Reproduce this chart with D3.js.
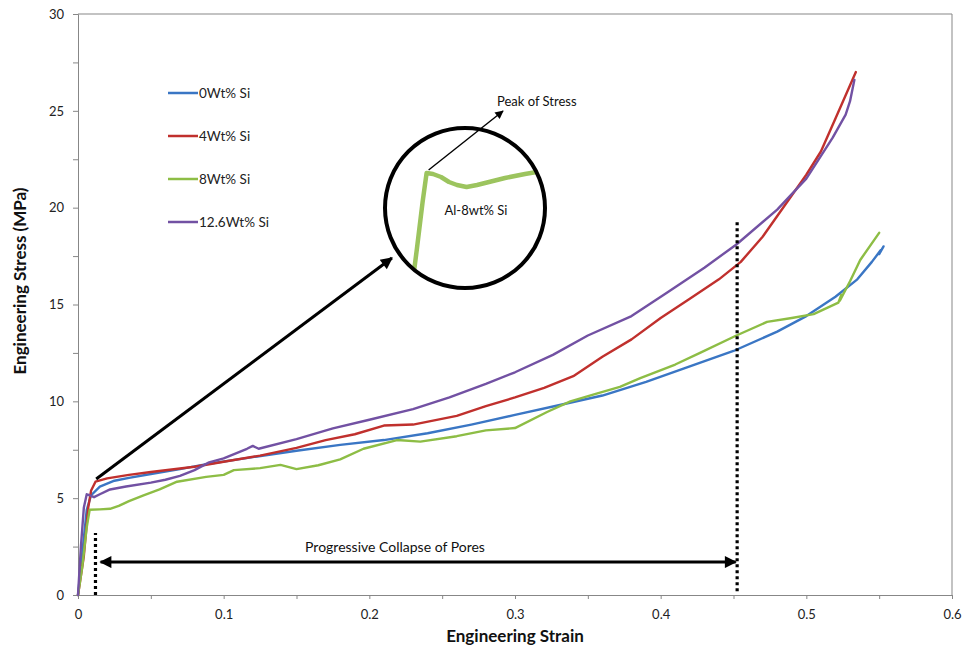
<!DOCTYPE html>
<html>
<head>
<meta charset="utf-8">
<script src="https://cdn.jsdelivr.net/npm/d3@7"></script>
<style>
  html, body { margin: 0; padding: 0; background: #fff; }
  svg { display: block; font-family: Lato, "Open Sans", sans-serif; }
</style>
</head>
<body>
<svg id="chart" width="973" height="647"></svg>
<script>
// ---------- data ----------
const seriesNames = ["0Wt% Si", "4Wt% Si", "8Wt% Si", "12.6Wt% Si"];
const seriesColors = ["#3a76c4", "#c0302d", "#8dbd45", "#7251a3"];

const si0 = [[0,0],[0.003,2.2],[0.006,4.4],[0.009,5.15],[0.015,5.6],[0.025,5.9],[0.035,6.05],[0.05,6.25],[0.07,6.5],[0.09,6.78],[0.12,7.12],[0.15,7.45],[0.18,7.75],[0.21,8.0],[0.24,8.35],[0.27,8.8],[0.3,9.3],[0.33,9.8],[0.36,10.3],[0.39,11.0],[0.42,11.8],[0.45,12.6],[0.48,13.6],[0.5,14.4],[0.52,15.4],[0.535,16.3],[0.545,17.2],[0.551,17.8],[0.55,17.6],[0.553,18.0]];

const si4 = [[0,0],[0.004,2.0],[0.007,4.5],[0.009,5.4],[0.012,5.85],[0.02,6.02],[0.035,6.2],[0.05,6.35],[0.08,6.62],[0.1,6.88],[0.125,7.2],[0.15,7.6],[0.17,8.0],[0.19,8.3],[0.21,8.75],[0.23,8.8],[0.26,9.25],[0.28,9.75],[0.3,10.2],[0.32,10.7],[0.34,11.3],[0.36,12.3],[0.38,13.2],[0.4,14.3],[0.42,15.3],[0.44,16.3],[0.455,17.2],[0.47,18.5],[0.485,20.1],[0.5,21.7],[0.51,22.9],[0.52,24.6],[0.534,27.0]];

const si8 = [[0,0],[0.003,1.5],[0.006,3.5],[0.008,4.4],[0.015,4.42],[0.022,4.45],[0.028,4.6],[0.035,4.85],[0.045,5.15],[0.056,5.45],[0.068,5.85],[0.088,6.1],[0.1,6.2],[0.107,6.45],[0.125,6.55],[0.139,6.72],[0.15,6.5],[0.165,6.7],[0.18,7.0],[0.196,7.55],[0.219,8.0],[0.235,7.92],[0.26,8.2],[0.28,8.5],[0.3,8.62],[0.322,9.45],[0.338,10.0],[0.356,10.4],[0.372,10.75],[0.386,11.2],[0.41,11.9],[0.427,12.5],[0.452,13.4],[0.473,14.1],[0.49,14.3],[0.505,14.5],[0.515,14.85],[0.522,15.1],[0.524,15.5],[0.523,15.2],[0.53,16.2],[0.537,17.3],[0.55,18.7]];

const si126 = [[0,0],[0.002,2.5],[0.004,4.5],[0.006,5.2],[0.008,5.15],[0.011,5.05],[0.015,5.2],[0.022,5.45],[0.033,5.6],[0.05,5.8],[0.06,5.95],[0.07,6.15],[0.08,6.45],[0.09,6.85],[0.1,7.05],[0.116,7.55],[0.12,7.7],[0.124,7.55],[0.15,8.05],[0.175,8.6],[0.2,9.05],[0.23,9.6],[0.255,10.2],[0.28,10.9],[0.3,11.5],[0.326,12.4],[0.35,13.4],[0.38,14.4],[0.404,15.6],[0.43,16.9],[0.452,18.1],[0.48,19.9],[0.5,21.5],[0.518,23.6],[0.527,24.8],[0.53,25.5],[0.533,26.6]];

const allSeries = [si0, si4, si8, si126];

const yTickValues = [0, 2.5, 5, 7.5, 10, 12.5, 15, 17.5, 20, 22.5, 25, 27.5, 30];
const xTickValues = [0, 0.05, 0.1, 0.15, 0.2, 0.25, 0.3, 0.35, 0.4, 0.45, 0.5, 0.55, 0.6];

// magnified inset (Al-8wt% Si near the peak)
const insetCurve = [[0.0072,3.85],[0.0080,4.1],[0.0087,4.33],[0.0092,4.475],[0.0100,4.47],[0.011,4.455],[0.012,4.43],[0.013,4.415],[0.0142,4.405],[0.0155,4.415],[0.017,4.43],[0.019,4.45],[0.0215,4.47],[0.0245,4.49]];

// annotations (data units)
const leftDotted = [[0.012, 0], [0.012, 3.2]];
const rightDotted = [[0.4525, 0.2], [0.4525, 19.3]];
const collapseArrow = [[0.0155, 1.7], [0.4515, 1.7]];
const bigArrow = [[0.0125, 5.99], [0.2155, 17.4]];

// ---------- layout ----------
const svg = d3.select("#chart");
const x = d3.scaleLinear().domain([0, 0.6]).range([78, 952]);
const y = d3.scaleLinear().domain([0, 30]).range([595, 14]);

const axisColor = "#878787";

// frame (top + right)
svg.append("line").attr("x1", x(0)).attr("x2", x(0.6)).attr("y1", y(30)).attr("y2", y(30))
  .attr("stroke", axisColor).attr("stroke-width", 1);
svg.append("line").attr("x1", x(0.6)).attr("x2", x(0.6)).attr("y1", y(30)).attr("y2", y(0))
  .attr("stroke", axisColor).attr("stroke-width", 1);

// axes
const yAxis = d3.axisLeft(y).tickValues(yTickValues).tickSize(5).tickPadding(9)
  .tickFormat(d => d % 5 === 0 ? d3.format("d")(d) : "");
const xAxis = d3.axisBottom(x).tickValues(xTickValues).tickSize(4).tickPadding(11)
  .tickFormat(d => Math.abs(d * 10 - Math.round(d * 10)) < 1e-9 ? (d === 0 ? "0" : d3.format(".1f")(d)) : "");

const gy = svg.append("g").attr("transform", `translate(${x(0)},0)`).call(yAxis);
const gx = svg.append("g").attr("transform", `translate(0,${y(0)})`).call(xAxis);
[gx, gy].forEach(g => {
  g.select(".domain").attr("stroke", axisColor);
  g.selectAll(".tick line").attr("stroke", axisColor);
  g.selectAll(".tick text").attr("fill", "#222").style("font-size", "13px")
    .style("font-family", "Lato, 'Open Sans', sans-serif");
});

// axis titles
svg.append("text").attr("x", 515).attr("y", 642).attr("text-anchor", "middle")
  .style("font-size", "17px").style("font-weight", "bold").attr("fill", "#111")
  .text("Engineering Strain");
svg.append("text").attr("transform", "translate(26,281) rotate(-90)").attr("text-anchor", "middle")
  .style("font-size", "17px").style("font-weight", "bold").attr("fill", "#111")
  .text("Engineering Stress  (MPa)");

// series
const line = d3.line().x(d => x(d[0])).y(d => y(d[1]));
allSeries.forEach((s, i) => {
  svg.append("path").datum(s).attr("d", line).attr("fill", "none")
    .attr("stroke", seriesColors[i]).attr("stroke-width", 2.4)
    .attr("stroke-linejoin", "round").attr("stroke-linecap", "round");
});

// legend
const legend = svg.append("g");
seriesNames.forEach((name, i) => {
  const ly = 93 + i * 43;
  legend.append("line").attr("x1", 168).attr("x2", 198).attr("y1", ly).attr("y2", ly)
    .attr("stroke", seriesColors[i]).attr("stroke-width", 2.5);
  legend.append("text").attr("x", 199).attr("y", ly + 4.5).style("font-size", "13.5px")
    .attr("fill", "#222").text(name);
});

// arrow markers
const defs = svg.append("defs");
defs.append("marker").attr("id", "ah").attr("viewBox", "0 0 10 10").attr("refX", 9).attr("refY", 5)
  .attr("markerWidth", 5).attr("markerHeight", 4).attr("markerUnits", "strokeWidth").attr("orient", "auto-start-reverse")
  .append("path").attr("d", "M0,0 L10,5 L0,10 Z").attr("fill", "#000");
defs.append("marker").attr("id", "ahThin").attr("viewBox", "0 0 10 10").attr("refX", 9).attr("refY", 5)
  .attr("markerWidth", 7).attr("markerHeight", 6).attr("markerUnits", "strokeWidth").attr("orient", "auto")
  .append("path").attr("d", "M0,0 L10,5 L0,10 Z").attr("fill", "#000");

// dotted lines
[leftDotted, rightDotted].forEach(seg => {
  svg.append("line").attr("x1", x(seg[0][0])).attr("x2", x(seg[1][0]))
    .attr("y1", y(seg[0][1])).attr("y2", y(seg[1][1]))
    .attr("stroke", "#000").attr("stroke-width", 3.2).attr("stroke-dasharray", "3,3");
});

// double arrow
svg.append("line").attr("x1", x(collapseArrow[0][0])).attr("x2", x(collapseArrow[1][0]))
  .attr("y1", y(collapseArrow[0][1])).attr("y2", y(collapseArrow[1][1]))
  .attr("stroke", "#000").attr("stroke-width", 3)
  .attr("marker-start", "url(#ah)").attr("marker-end", "url(#ah)");
svg.append("text").attr("x", 395).attr("y", 552).attr("text-anchor", "middle")
  .style("font-size", "14px").attr("fill", "#111").text("Progressive Collapse of Pores");

// big arrow to inset
svg.append("line").attr("x1", x(bigArrow[0][0])).attr("x2", x(bigArrow[1][0]))
  .attr("y1", y(bigArrow[0][1])).attr("y2", y(bigArrow[1][1]))
  .attr("stroke", "#000").attr("stroke-width", 3).attr("marker-end", "url(#ah)");

// inset
const cx = 465, cy = 208, r = 80;
defs.append("clipPath").attr("id", "insetClip").append("circle").attr("cx", cx).attr("cy", cy).attr("r", r - 1);
const ix = d3.scaleLinear().domain([0.004, 0.024]).range([385, 545]);
const iy = d3.scaleLinear().domain([3.9, 4.7]).range([288, 128]);
svg.append("circle").attr("cx", cx).attr("cy", cy).attr("r", r).attr("fill", "#fff");
svg.append("path").datum(insetCurve).attr("clip-path", "url(#insetClip)")
  .attr("d", d3.line().x(d => ix(d[0])).y(d => iy(d[1])))
  .attr("fill", "none").attr("stroke", "#9cc45e").attr("stroke-width", 4.5).attr("stroke-linejoin", "round");
svg.append("circle").attr("cx", cx).attr("cy", cy).attr("r", r).attr("fill", "none")
  .attr("stroke", "#000").attr("stroke-width", 4);
svg.append("text").attr("x", 476).attr("y", 215).attr("text-anchor", "middle")
  .style("font-size", "13px").attr("fill", "#111").text("Al-8wt% Si");

// peak arrow
svg.append("line").attr("x1", ix(0.0092) + 2).attr("y1", iy(4.475) - 3).attr("x2", 503).attr("y2", 111)
  .attr("stroke", "#000").attr("stroke-width", 1.4).attr("marker-end", "url(#ahThin)");
svg.append("text").attr("x", 497).attr("y", 106).style("font-size", "13px").attr("fill", "#111")
  .text("Peak of Stress");
</script>
</body>
</html>
